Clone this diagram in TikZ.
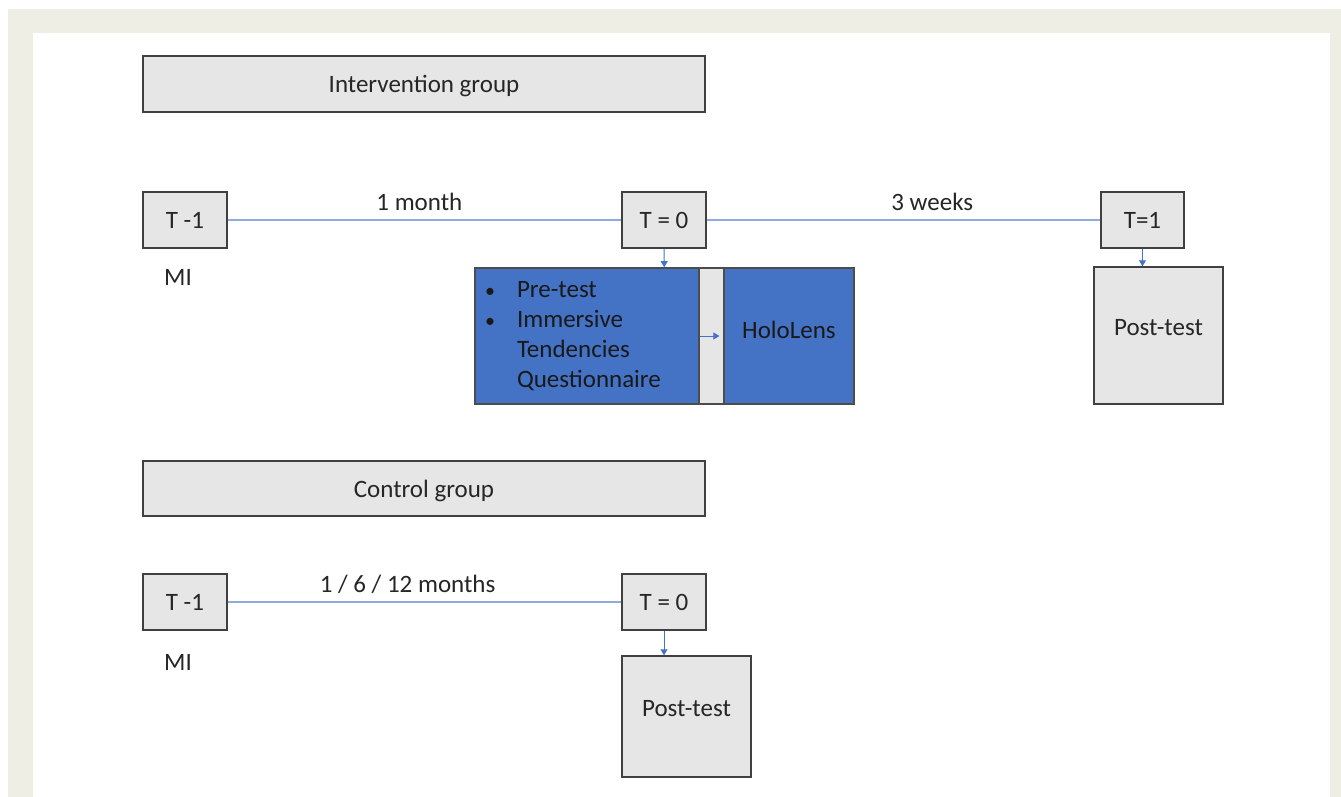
\documentclass[tikz,border=0pt]{standalone}
\usepackage{fontspec}
\setmainfont{Carlito}
\usepackage{tikz}
\usetikzlibrary{arrows.meta}
\usetikzlibrary{fit}
\usepackage{xcolor}
\definecolor{framecol}{RGB}{239,238,228}
\definecolor{boxgrey}{RGB}{230,230,230}
\definecolor{boxline}{RGB}{64,64,64}
\definecolor{holoblue}{RGB}{68,114,196}
\definecolor{lineblue}{RGB}{143,170,220}
\colorlet{textcol}{black!85}
\tikzstyle{greybox}=[draw=boxline,fill=boxgrey,line width=1.5,inner sep=0,text=textcol]
\tikzstyle{timebox}=[greybox,minimum width=84,minimum height=56]
\tikzstyle{headbox}=[greybox,minimum width=562,text height=22,text depth=5]
\tikzstyle{postbox}=[greybox,minimum width=129,text depth=16]
\tikzstyle{bluebox}=[draw=black!70,fill=holoblue,line width=1.2,text=black!90,minimum height=136,inner sep=0]
\tikzstyle{timeline}=[lineblue,line width=1.2]
\tikzstyle{downarrow}=[-{Triangle[width=7pt,length=6pt]},holoblue,line width=1]
\tikzstyle{spanlabel}=[above,yshift=5,text=textcol]

\begin{document}
\begin{tikzpicture}[x=1pt,y=-1pt,font=\fontsize{25}{30}\selectfont]

    \useasboundingbox (0,0) rectangle (1341,797);
    \fill[white] (0,0) rectangle (1341,797);
    \fill[framecol] (8,9) rectangle (1341,797);
    \fill[white] (33,33) rectangle (1330,797);

    % intervention group
    \node[headbox,minimum height=56] (ighead) at (424,84) {Intervention group};

    \node[timebox] (itm) at (185,220) {T -1};
    \node[timebox] (itz) at (664,220) {T = 0};
    \node[timebox,minimum width=83] (ito) at (1142.5,220) {T=1};
    \node[text=textcol] (imi) at (178,277) {MI};

    \draw[timeline] (itm) -- node[spanlabel,pos=0.487] (imonth) {1 month} (itz);
    \draw[timeline] (itz) -- node[spanlabel,pos=0.573] (iweeks) {3 weeks} (ito);

    \node[bluebox,minimum width=224,text width=204,align=left] (prep) at (587,336)
        {\raisebox{-1pt}{\begin{tabular}{@{}p{32pt}@{}l@{}}
         {\fontsize{20}{30}\selectfont\textbullet} & Pre-test\\
         {\fontsize{20}{30}\selectfont\textbullet} & Immersive\\
                     & Tendencies\\
                     & Questionnaire
         \end{tabular}}};
    \node[greybox,line width=1.2,draw=black!70,minimum width=25,minimum height=136] (igap) at (711.5,336) {};
    \node[bluebox,minimum width=130,text depth=12] (holo) at (789,336) {HoloLens};
    \node[fit=(prep)(holo),inner sep=0] (block) {};

    \node[postbox,minimum height=137] (ipost) at (1158.5,335.5) {Post-test};

    \draw[downarrow] (itz) -- (block);
    \draw[downarrow,shorten >=4pt] (prep) -- (holo);
    \draw[downarrow] (ito) -- (ito |- ipost.north);

    % control group
    \node[headbox,minimum height=55] (cghead) at (424,488.5) {Control group};

    \node[timebox] (ctm) at (185,602) {T -1};
    \node[timebox] (ctz) at (664,602) {T = 0};
    \node[text=textcol] (cmi) at (178,662) {MI};

    \draw[timeline] (ctm) -- node[spanlabel,pos=0.457] (cmonths) {1 / 6 / 12 months} (ctz);

    \node[postbox,minimum height=121] (cpost) at (686.5,716.5) {Post-test};
    \draw[downarrow] (ctz) -- (ctz |- cpost.north);

\end{tikzpicture}
\end{document}
